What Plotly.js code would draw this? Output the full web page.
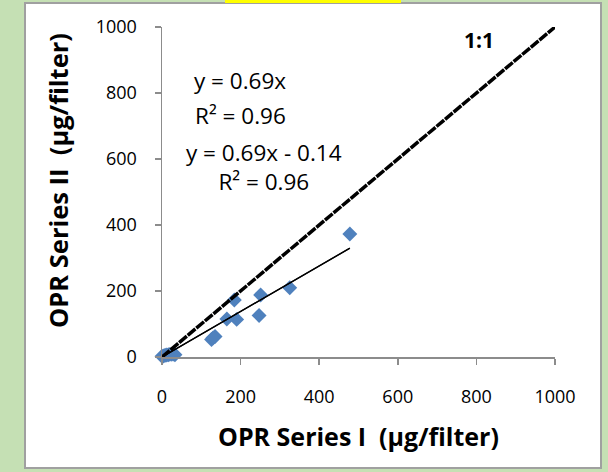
<!DOCTYPE html>
<html>
<head>
<meta charset="utf-8">
<script src="https://cdn.plot.ly/plotly-3.0.1.min.js"></script>
<style>html,body{margin:0;padding:0;background:#c5e0b4;}#chart{width:608px;height:472px;}</style>
</head>
<body>
<div id="chart"></div>
<script>
// Data
const seriesI  = [478, 325, 251, 247, 184, 190, 165, 135, 126, 130, 0, 4, 8, 12, 16, 20, 25, 30, 33];
const seriesII = [373, 210, 188, 126, 173, 114, 115, 62, 53, 58, 2, 3, 5, 6, 7, 8, 8, 9, 7];
const oneToOneX = [0, 1000];
const oneToOneY = [0, 1000];
const trendSlopes = [0.69, 0.69];
const trendIntercepts = [0, -0.14];
const trendLabels = ["y = 0.69x", "y = 0.69x - 0.14"];
const r2Labels = ["R\u00b2 = 0.96", "R\u00b2 = 0.96"];
const tickVals = [0, 200, 400, 600, 800, 1000];
const tickText = ["0", "200", "400", "600", "800", "1000"];

const FONT = "Open Sans, Lato, sans-serif";
const xMaxData = Math.max(...seriesI);

const traces = [
  {x: seriesI, y: seriesII, mode: "markers", type: "scatter", cliponaxis: false,
   marker: {symbol: "diamond", size: 11.5, color: "#4f81bd", line: {width: 0}}}
];
trendSlopes.forEach((m, i) => {
  traces.push({x: [0, xMaxData], y: [trendIntercepts[i], m * xMaxData + trendIntercepts[i]],
    mode: "lines", type: "scatter", cliponaxis: false, line: {color: "#000000", width: 1.3}, hoverinfo: "skip"});
});
traces.push({x: oneToOneX, y: oneToOneY, mode: "lines", type: "scatter", cliponaxis: false,
  line: {color: "#000000", width: 3.5, dash: "10px,1.2px"}, hoverinfo: "skip"});

function px2x(p){ return (p - 162) / 393; }
function py2y(p){ return (357 - p) / 330; }

const ANN = 22.5;
const layout = {
  width: 608, height: 472,
  margin: {l: 162, r: 53, t: 27, b: 115},
  paper_bgcolor: "#c5e0b4",
  plot_bgcolor: "rgba(0,0,0,0)",
  showlegend: false,
  font: {family: FONT, color: "#000000"},
  xaxis: {range: [0, 1000], tickvals: tickVals, ticktext: tickText, showgrid: false, zeroline: false,
    showline: true, linecolor: "#8c8c8c", linewidth: 1.5, ticks: "outside", ticklen: 6, tickcolor: "#8c8c8c",
    tickwidth: 1.5, tickfont: {size: 18, family: FONT}, ticklabelstandoff: 17, fixedrange: true},
  yaxis: {range: [0, 1000], tickvals: tickVals, ticktext: tickText, showgrid: false, zeroline: false,
    showline: true, linecolor: "#8c8c8c", linewidth: 1.5, ticks: "outside", ticklen: 6, tickcolor: "#8c8c8c",
    tickwidth: 1.5, tickfont: {size: 18, family: FONT}, ticklabelstandoff: 14, fixedrange: true},
  shapes: [
    {type: "rect", xref: "paper", yref: "paper", layer: "below",
     x0: px2x(25), x1: px2x(601), y0: py2y(468), y1: py2y(3),
     fillcolor: "#ffffff", line: {color: "#a0a0a0", width: 2}},
    {type: "rect", xref: "paper", yref: "paper", layer: "above",
     x0: px2x(225), x1: px2x(401), y0: py2y(3), y1: py2y(0),
     fillcolor: "#ffff00", line: {width: 0}}
  ],
  annotations: [
    {xref: "paper", yref: "paper", x: px2x(358), y: py2y(436), text: "<b>OPR Series I\u00a0 (µg/filter)</b>",
     showarrow: false, font: {size: 25, family: FONT}, xanchor: "center", yanchor: "middle"},
    {xref: "paper", yref: "paper", x: px2x(58), y: py2y(181), text: "<b>OPR Series II\u00a0 (µg/filter)</b>",
     showarrow: false, textangle: -90, font: {size: 25.5, family: FONT}, xanchor: "center", yanchor: "middle"},
    {xref: "x", yref: "y", x: 807, y: 961, text: "<b>1:1</b>", showarrow: false, font: {size: 21, family: FONT}},
    {xref: "x", yref: "y", x: 198, y: 839, text: trendLabels[0], showarrow: false, font: {size: ANN, family: FONT}},
    {xref: "x", yref: "y", x: 201, y: 731, text: r2Labels[0], showarrow: false, font: {size: ANN, family: FONT}},
    {xref: "x", yref: "y", x: 260, y: 575, text: trendLabels[1] + "<br>" + r2Labels[1], showarrow: false,
     align: "center", font: {size: ANN, family: FONT}}
  ]
};

Plotly.newPlot("chart", traces, layout, {displayModeBar: false, staticPlot: true});
</script>
</body>
</html>
